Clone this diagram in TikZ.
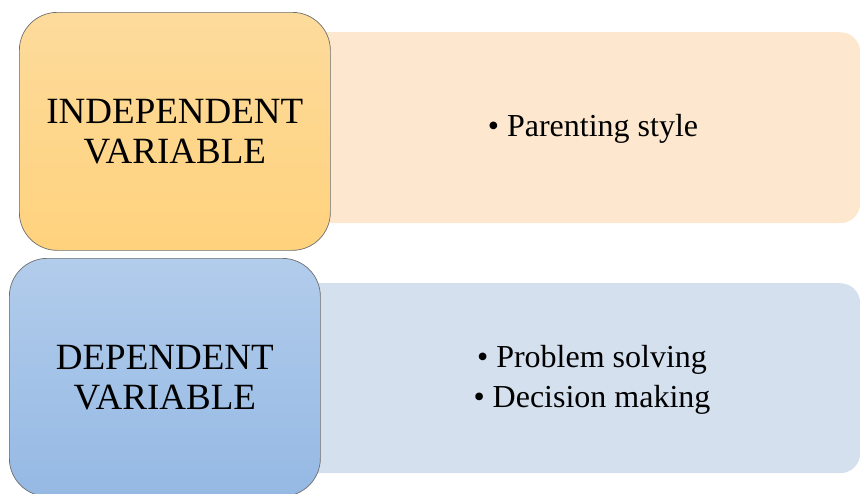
\documentclass[tikz,border=0pt]{standalone}
\usepackage{fontspec}
\setmainfont{Liberation Serif}
\begin{document}
\definecolor{ivTop}{RGB}{253,219,156}
\definecolor{ivBot}{RGB}{255,210,125}
\definecolor{dvTop}{RGB}{178,204,235}
\definecolor{dvBot}{RGB}{149,185,228}
\definecolor{ivPanel}{RGB}{253,232,207}
\definecolor{dvPanel}{RGB}{213,224,238}
\definecolor{edge}{RGB}{110,110,110}
\begin{tikzpicture}[x=1pt,y=-1pt,
  panel/.style={rectangle,rounded corners=20pt,inner sep=0pt,anchor=north west},
  varbox/.style={rectangle,rounded corners=38pt,draw=edge,line width=0.7pt,
    inner sep=0pt,anchor=north west,minimum width=311pt,minimum height=238pt,
    align=center,font=\fontsize{37}{40}\selectfont},
  items/.style={align=center,font=\fontsize{32}{39.5}\selectfont}]
\useasboundingbox (0,0) rectangle (860,493);
\clip (0,0) rectangle (860,493);
% light panels behind the variable boxes
\node[panel,fill=ivPanel,minimum width=560pt,minimum height=191pt] (ivp) at (300,32) {};
\node[panel,fill=dvPanel,minimum width=570pt,minimum height=190pt] (dvp) at (290,283) {};
% the variable boxes
\node[varbox,top color=ivTop,bottom color=ivBot] (iv) at (19,12) {INDEPENDENT\\VARIABLE};
\node[varbox,top color=dvTop,bottom color=dvBot] (dv) at (9,258) {DEPENDENT\\VARIABLE};
% their items
\node[items] (ivt) at (593,129) {\textbullet\ Parenting style};
\node[items] (dvt) at (592,380) {\textbullet\ Problem solving\\\textbullet\ Decision making};
\end{tikzpicture}
\end{document}
